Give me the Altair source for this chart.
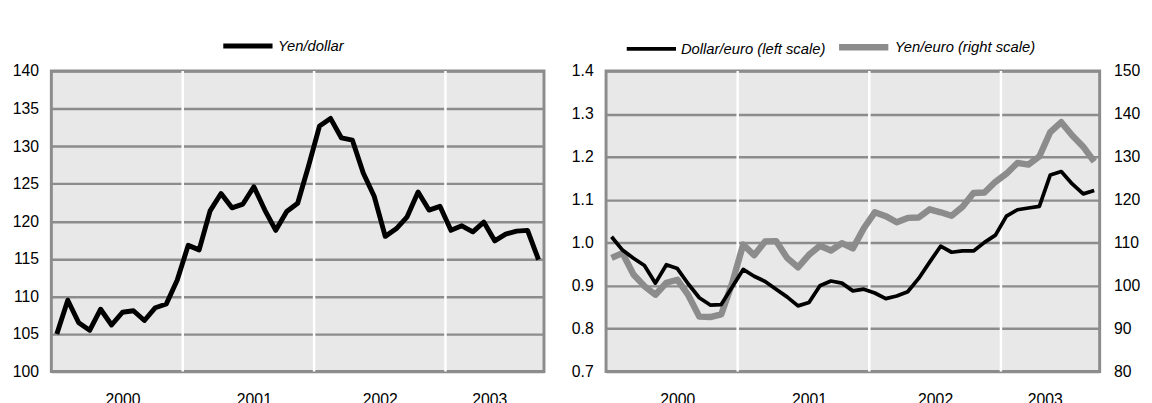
import altair as alt
import pandas as pd

FONT = "Liberation Sans"
GRID = "#8c8c8c"
BG = "#e8e8e8"

# months Jan 2000 .. Sep 2003 (45 monthly observations)
n_months = 45
year_labels = ["2000", "2001", "2002", "2003"]
year_label_pos = [6.5, 18.5, 30, 40]
year_bounds = [12, 24, 36]

yen_dollar = [105.0, 109.5, 106.5, 105.5, 108.3, 106.2, 107.9, 108.1, 106.8, 108.5, 109.0, 112.2,
              116.8, 116.2, 121.4, 123.7, 121.8, 122.3, 124.6, 121.5, 118.8, 121.3, 122.4, 127.4,
              132.7, 133.7, 131.1, 130.8, 126.4, 123.3, 118.0, 119.0, 120.6, 123.9, 121.5, 122.0,
              118.8, 119.4, 118.6, 119.9, 117.4, 118.3, 118.7, 118.8, 114.9]

dollar_euro = [1.014, 0.983, 0.964, 0.947, 0.906, 0.949, 0.940, 0.904, 0.872, 0.855, 0.856, 0.897,
               0.938, 0.922, 0.910, 0.892, 0.874, 0.853, 0.861, 0.900, 0.911, 0.906, 0.888, 0.892,
               0.883, 0.870, 0.876, 0.886, 0.917, 0.955, 0.992, 0.978, 0.981, 0.981, 1.001, 1.018,
               1.062, 1.077, 1.081, 1.085, 1.158, 1.166, 1.137, 1.114, 1.122]

yen_euro = [106.5, 107.6, 102.6, 99.9, 97.9, 100.7, 101.4, 97.8, 92.8, 92.7, 93.3, 100.6,
            109.6, 107.1, 110.3, 110.4, 106.5, 104.3, 107.2, 109.3, 108.2, 109.9, 108.7, 113.4,
            117.1, 116.2, 114.8, 115.8, 115.9, 117.8, 117.1, 116.3, 118.4, 121.6, 121.7, 124.2,
            126.1, 128.6, 128.2, 130.1, 135.8, 138.1, 135.0, 132.4, 128.9]

left_ticks = [100, 105, 110, 115, 120, 125, 130, 135, 140]
de_ticks = [0.7, 0.8, 0.9, 1.0, 1.1, 1.2, 1.3, 1.4]
ye_ticks = [80, 90, 100, 110, 120, 130, 140, 150]

S_YD = "Yen/dollar"
S_DE = "Dollar/euro (left scale)"
S_YE = "Yen/euro (right scale)"

mpos = [i + 0.5 for i in range(n_months)]
df_yd = pd.DataFrame({"m": mpos, "v": yen_dollar, "s": S_YD})
df_de = pd.DataFrame({"m": mpos, "v": dollar_euro, "s": S_DE})
df_ye = pd.DataFrame({"m": mpos, "v": yen_euro, "s": S_YE})
df_b = pd.DataFrame({"b": year_bounds})

label_expr = "".join(f"datum.value == {p} ? '{l}' : " for p, l in zip(year_label_pos, year_labels)) + "''"

W, H = 500, 305

x_enc = alt.X("m:Q", scale=alt.Scale(domain=[0, n_months], nice=False, zero=False),
              axis=alt.Axis(values=year_label_pos, labelExpr=label_expr, title=None, grid=False,
                            ticks=False, domain=False, labelPadding=20, labelFontSize=16))


def year_rules():
    return alt.Chart(df_b).mark_rule(color="white", strokeWidth=2.5).encode(
        x=alt.X("b:Q", scale=alt.Scale(domain=[0, n_months], nice=False, zero=False))
    )


def legend(x, y):
    return alt.Legend(orient="none", legendX=x, legendY=y, direction="horizontal", title=None,
                      symbolType="stroke", symbolSize=2500, symbolStrokeWidth=5,
                      labelFontSize=15, labelFontStyle="italic", labelFont=FONT,
                      labelColor="black", labelOffset=3, columnPadding=0, padding=0)


left_line = alt.Chart(df_yd).mark_line(strokeWidth=5, strokeJoin="round").encode(
    x=x_enc,
    y=alt.Y("v:Q", scale=alt.Scale(domain=[100, 140], nice=False, zero=False),
            axis=alt.Axis(values=left_ticks, title=None, ticks=False, domain=False, grid=True,
                          gridColor=GRID, gridWidth=2.5, labelPadding=13, labelFontSize=16)),
    color=alt.Color("s:N", scale=alt.Scale(domain=[S_YD], range=["black"]), legend=legend(172, -53)),
)

left = alt.layer(year_rules(), left_line).properties(width=W, height=H)

de_line = alt.Chart(df_de).mark_line(strokeJoin="round").encode(
    x=x_enc,
    y=alt.Y("v:Q", scale=alt.Scale(domain=[0.7, 1.4], nice=False, zero=False),
            axis=alt.Axis(values=de_ticks, format=".1f", title=None, ticks=False, domain=False,
                          grid=True, gridColor=GRID, gridWidth=2.5, labelPadding=13,
                          labelFontSize=16, orient="left")),
    color=alt.Color("s:N", scale=alt.Scale(domain=[S_DE, S_YE], range=["black", GRID]),
                    legend=legend(19, -53)),
    strokeWidth=alt.StrokeWidth("s:N", scale=alt.Scale(domain=[S_DE, S_YE], range=[3.8, 6.5]),
                                legend=legend(19, -53)),
)

ye_line = alt.Chart(df_ye).mark_line(strokeJoin="round").encode(
    x=x_enc,
    y=alt.Y("v:Q", scale=alt.Scale(domain=[80, 150], nice=False, zero=False),
            axis=alt.Axis(values=ye_ticks, title=None, ticks=False, domain=False, grid=False,
                          labelPadding=14, labelFontSize=16, orient="right")),
    color=alt.Color("s:N", scale=alt.Scale(domain=[S_DE, S_YE], range=["black", GRID]),
                    legend=legend(19, -53)),
    strokeWidth=alt.StrokeWidth("s:N", scale=alt.Scale(domain=[S_DE, S_YE], range=[3.8, 6.5]),
                                legend=legend(19, -53)),
)

right = alt.layer(year_rules(), ye_line, de_line).resolve_scale(y="independent").properties(width=W + 1, height=H)

chart = alt.hconcat(left, right, spacing=24).resolve_scale(
    color="independent", strokeWidth="independent"
).resolve_legend(color="independent", strokeWidth="independent").properties(
    padding={"left": 2, "top": 6, "right": 2, "bottom": 0},
    background="white",
).configure_view(
    fill=BG, stroke=GRID, strokeWidth=3
).configure_axis(
    labelFont=FONT, labelColor="black"
)

chart.save("out.html", embed_options={"renderer": "svg", "actions": False})
